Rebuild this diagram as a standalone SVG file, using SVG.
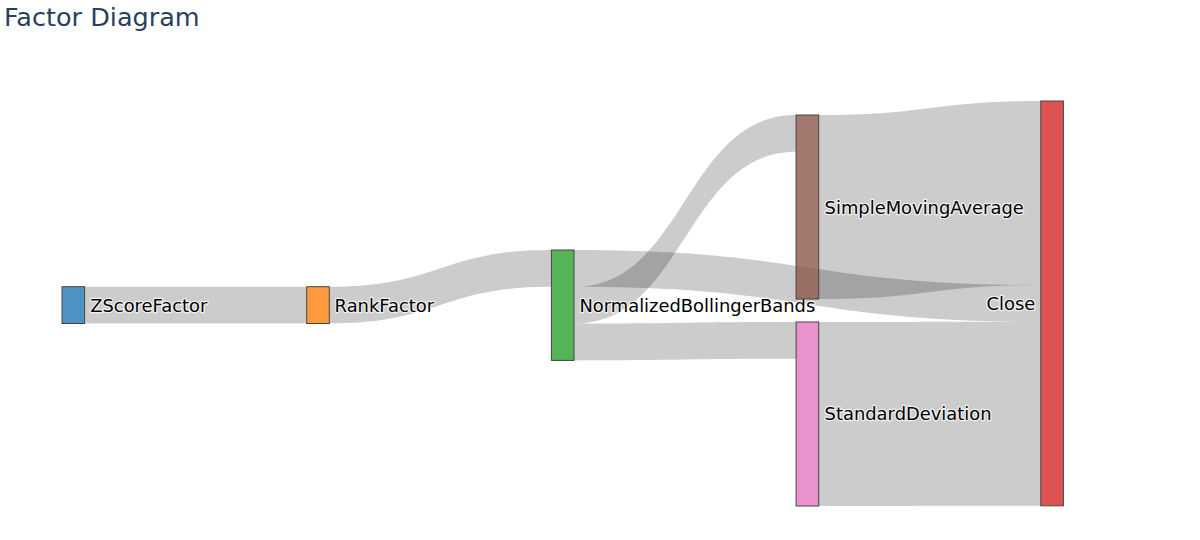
<svg xmlns="http://www.w3.org/2000/svg" width="1200" height="540" viewBox="0 0 1200 540">
  <style>
    .link { fill: rgba(0,0,0,0.2); stroke: none; }
    .node rect { fill-opacity: 0.8; stroke: #444; stroke-width: 1; }
    .label { font-family: "DejaVu Sans", Verdana, sans-serif; font-size: 17.9px; fill: #000; stroke: #fff; stroke-width: 2.5; stroke-opacity: 0.7; paint-order: stroke; stroke-linejoin: round; }
    .title { font-family: "DejaVu Sans", Verdana, sans-serif; font-size: 25.5px; fill: #2a3f5f; }
  </style>
  <rect width="1200" height="540" fill="#fff"/>
  <text class="title" x="4" y="26">Factor Diagram</text>
  <g id="links">
    <path class="link" d="M84.6,286.7 C195.65,286.7 195.65,286.7 306.7,286.7 L306.7,323.5 C195.65,323.5 195.65,323.5 84.6,323.5 Z"/>
    <path class="link" d="M329.3,286.7 C440.35,286.7 440.35,250 551.4,250 L551.4,286.8 C440.35,286.8 440.35,323.5 329.3,323.5 Z"/>
    <path class="link" d="M574,250 C807.4,250 807.4,285 1040.8,285 L1040.8,321.8 C807.4,321.8 807.4,286.8 574,286.8 Z"/>
    <path class="link" d="M574,286.8 C685.05,286.8 685.05,115 796.1,115 L796.1,151.8 C685.05,151.8 685.05,323.6 574,323.6 Z"/>
    <path class="link" d="M574,323.6 C685.05,323.6 685.05,322 796.1,322 L796.1,358.8 C685.05,358.8 685.05,360.4 574,360.4 Z"/>
    <path class="link" d="M818.7,115 C929.75,115 929.75,101 1040.8,101 L1040.8,285 C929.75,285 929.75,299 818.7,299 Z"/>
    <path class="link" d="M818.7,322 C929.75,322 929.75,321.8 1040.8,321.8 L1040.8,505.8 C929.75,505.8 929.75,506 818.7,506 Z"/>
  </g>
  <g id="node-zscore" class="node">
    <rect x="62" y="286.7" width="22.6" height="36.8" fill="#1f77b4"/>
    <text class="label" x="90.2" y="311.6">ZScoreFactor</text>
  </g>
  <g id="node-rank" class="node">
    <rect x="306.7" y="286.7" width="22.6" height="36.8" fill="#ff7f0e"/>
    <text class="label" x="334.6" y="311.6">RankFactor</text>
  </g>
  <g id="node-nbb" class="node">
    <rect x="551.4" y="250" width="22.6" height="110.4" fill="#2ca02c"/>
    <text class="label" x="579.4" y="311.7">NormalizedBollingerBands</text>
  </g>
  <g id="node-sma" class="node">
    <rect x="796.1" y="115" width="22.6" height="184" fill="#8c564b"/>
    <text class="label" x="824.6" y="213.8">SimpleMovingAverage</text>
  </g>
  <g id="node-sd" class="node">
    <rect x="796.1" y="322" width="22.6" height="184" fill="#e377c2"/>
    <text class="label" x="824.6" y="419.5">StandardDeviation</text>
  </g>
  <g id="node-close" class="node">
    <rect x="1040.8" y="101" width="22.6" height="404.8" fill="#d62728"/>
    <text class="label" x="1035.3" y="310" text-anchor="end">Close</text>
  </g>
</svg>
